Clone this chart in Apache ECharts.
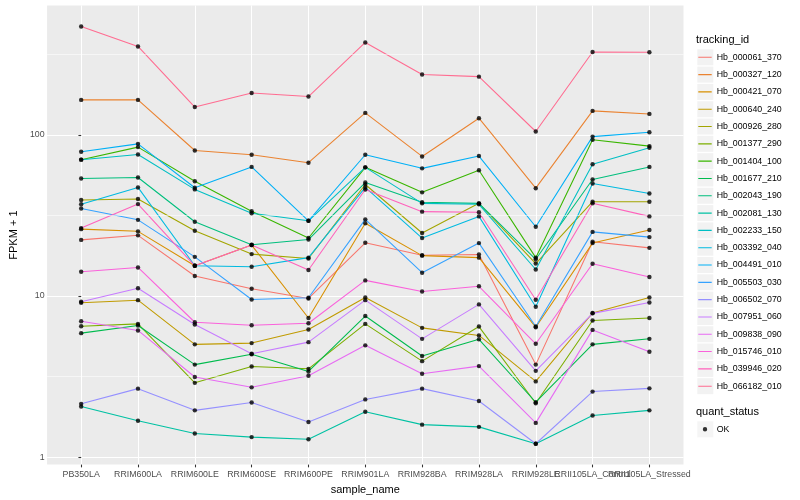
<!DOCTYPE html>
<html><head><meta charset="utf-8">
<script src="https://cdn.jsdelivr.net/npm/echarts@6/dist/echarts.min.js"></script>
<style>html,body{margin:0;padding:0;background:#fff}#c{width:800px;height:500px}</style>
</head><body><div id="c"></div>
<script>
const categories = ['PB350LA','RRIM600LA','RRIM600LE','RRIM600SE','RRIM600PE','RRIM901LA','RRIM928BA','RRIM928LA','RRIM928LE','RRII105LA_Control','RRII105LA_Stressed'];
const trackingIds = ['Hb_000061_370','Hb_000327_120','Hb_000421_070','Hb_000640_240','Hb_000926_280','Hb_001377_290','Hb_001404_100','Hb_001677_210','Hb_002043_190','Hb_002081_130','Hb_002233_150','Hb_003392_040','Hb_004491_010','Hb_005503_030','Hb_006502_070','Hb_007951_060','Hb_009838_090','Hb_015746_010','Hb_039946_020','Hb_066182_010'];
const colors = ['#F8766D','#EA8331','#D89000','#C09B00','#A3A500','#7CAE00','#39B600','#00BB4E','#00BF7D','#00C1A3','#00BFC4','#00BAE0','#00B0F6','#35A2FF','#9590FF','#C77CFF','#E76BF3','#FA62DB','#FF62BC','#FF6C91'];

const hb_000061_370 = [22.3, 23.8, 13.3, 11.1, 9.65, 21.4, 17.9, 18.1, 3.75, 21.7, 19.9];
const hb_000327_120 = [165, 165, 80.0, 75.3, 67.2, 137, 73.5, 127, 46.7, 141, 135];
const hb_000421_070 = [26.0, 25.2, 15.4, 20.7, 7.30, 28.3, 17.8, 17.3, 6.40, 21.3, 25.7];
const hb_000640_240 = [9.08, 9.42, 5.01, 5.10, 6.19, 9.79, 6.34, 5.69, 2.95, 7.84, 9.79];
const hb_000926_280 = [39.4, 40.0, 25.4, 18.2, 17.1, 49.2, 24.6, 37.6, 15.9, 38.5, 38.5];
const hb_001377_290 = [6.49, 6.71, 2.89, 3.65, 3.53, 6.71, 3.94, 6.46, 2.16, 7.04, 7.30];
const hb_001404_100 = [70.2, 84.0, 51.6, 33.6, 22.9, 62.9, 44.0, 60.3, 17.3, 93.2, 85.2];
const hb_001677_210 = [5.88, 6.56, 3.75, 4.35, 3.40, 7.51, 4.24, 5.38, 2.19, 5.01, 5.42];
const hb_002043_190 = [53.6, 54.4, 28.9, 20.8, 22.4, 50.6, 38.2, 37.6, 16.9, 52.9, 63.3];
const hb_002081_130 = [2.06, 1.68, 1.40, 1.33, 1.29, 1.91, 1.59, 1.54, 1.21, 1.81, 1.95];
const hb_002233_150 = [70.2, 75.6, 45.9, 32.6, 29.3, 62.9, 37.6, 37.1, 14.6, 65.7, 83.2];
const hb_003392_040 = [37.1, 47.2, 15.4, 15.2, 17.3, 47.2, 22.9, 31.2, 8.58, 49.9, 43.3];
const hb_004491_010 = [78.6, 88.0, 47.0, 63.3, 29.3, 75.3, 62.0, 73.9, 26.9, 97.6, 103.9];
const hb_005503_030 = [34.9, 29.7, 17.5, 9.51, 9.75, 29.9, 13.95, 21.3, 6.46, 25.0, 23.2];
const hb_006502_070 = [2.14, 2.66, 1.95, 2.18, 1.65, 2.28, 2.66, 2.23, 1.21, 2.55, 2.67];
const hb_007951_060 = [9.21, 11.17, 6.65, 4.38, 5.17, 9.42, 5.42, 8.87, 3.43, 7.80, 9.12];
const hb_009838_090 = [6.97, 6.11, 3.14, 2.71, 3.20, 4.94, 3.29, 3.67, 1.63, 6.16, 4.51];
const hb_015746_010 = [14.15, 15.04, 6.87, 6.58, 6.77, 12.5, 10.66, 11.49, 5.05, 15.85, 13.13];
const hb_039946_020 = [26.4, 37.2, 15.4, 20.75, 14.5, 45.8, 33.4, 33.1, 9.48, 37.6, 31.2];
const hb_066182_010 = [471, 354, 149, 182, 173, 375, 237, 230, 105, 327, 326];

const seriesValues = [hb_000061_370, hb_000327_120, hb_000421_070, hb_000640_240, hb_000926_280, hb_001377_290, hb_001404_100, hb_001677_210, hb_002043_190, hb_002081_130, hb_002233_150, hb_003392_040, hb_004491_010, hb_005503_030, hb_006502_070, hb_007951_060, hb_009838_090, hb_015746_010, hb_039946_020, hb_066182_010];

const yMajorTicks = [1, 10, 100];
const yMinorTicks = [3.1623, 31.623, 316.23];
const xTickValues = categories.map((c, i) => i);
// label groups (split so that overlapping neighbour labels are all kept, as in the original)
const xTickGroups = [xTickValues.slice(0, 9), xTickValues.slice(9, 10), xTickValues.slice(10)];

const FONT = 'Liberation Sans';
const lineIcon = 'path://M0,0h0.05v0.05h-0.05z M0,7.45h13.4v1.1h-13.4z M13.35,15.95h0.05v0.05h-0.05z';
const dotIcon = 'path://M0,0h0.05v0.05h-0.05z M4.5,8a2.2,2.2 0 1,0 4.4,0a2.2,2.2 0 1,0 -4.4,0z M13.35,15.95h0.05v0.05h-0.05z';

const chart = echarts.init(document.getElementById('c'), null, {renderer: 'canvas'});

const series = [{
  type: 'line', name: '_minor', data: [], silent: true, z: 1, xAxisIndex: 0,
  markLine: {
    silent: true, symbol: 'none', animation: false,
    label: {show: false},
    lineStyle: {color: '#FFFFFF', width: 0.55, type: 'solid'},
    emphasis: {disabled: true},
    data: yMinorTicks.map(v => ({yAxis: v}))
  }
}];
trackingIds.forEach((id, k) => {
  series.push({
    type: 'line', name: id, z: 3, silent: true, xAxisIndex: 0,
    data: seriesValues[k].map((v, i) => [i, v]),
    symbol: 'none', showSymbol: false,
    lineStyle: {color: colors[k], width: 1.07},
    itemStyle: {color: colors[k]}
  });
});
const allPoints = [];
seriesValues.forEach(arr => arr.forEach((v, i) => allPoints.push([i, v])));
series.push({
  type: 'scatter', name: 'OK', z: 5, silent: true, xAxisIndex: 0,
  data: allPoints, symbol: 'circle', symbolSize: 4.4,
  itemStyle: {color: '#000000'}
});

const xAxes = xTickGroups.map((ticks, gi) => {
  const ax = {
    type: 'value', min: -0.6, max: 10.6, position: 'bottom', offset: 0,
    axisLine: {show: false},
    axisTick: {show: true, customValues: ticks, length: 2.75, lineStyle: {color: '#333333', width: 1.07}},
    axisLabel: {customValues: ticks, fontFamily: FONT, fontSize: 8.8, color: '#4D4D4D', margin: 5.5,
      hideOverlap: false, formatter: v => categories[Math.round(v)] || ''},
    splitLine: {show: true, lineStyle: {color: '#FFFFFF', width: 1.07}}
  };
  if (gi === 0) {
    ax.name = 'sample_name';
    ax.nameLocation = 'middle';
    ax.nameGap = 16;
    ax.nameTextStyle = {fontFamily: FONT, fontSize: 11, color: '#000'};
  }
  return ax;
});

const option = {
  animation: false,
  textStyle: {fontFamily: FONT},
  grid: {left: 39.8, top: 5.6, width: 643.7, height: 463, show: true, backgroundColor: '#EBEBEB', borderWidth: 0, borderColor: 'transparent', containLabel: false},
  title: [
    {text: 'tracking_id', left: 696, top: 34, padding: 0, textStyle: {fontFamily: FONT, fontSize: 11, fontWeight: 'normal', color: '#000'}},
    {text: 'quant_status', left: 696, top: 406, padding: 0, textStyle: {fontFamily: FONT, fontSize: 11, fontWeight: 'normal', color: '#000'}}
  ],
  xAxis: xAxes,
  yAxis: {
    type: 'log', logBase: 10, min: 0.898, max: 635,
    name: 'FPKM + 1', nameLocation: 'middle', nameGap: 22,
    nameTextStyle: {fontFamily: FONT, fontSize: 11, color: '#000'},
    axisLine: {show: false},
    axisTick: {show: true, customValues: yMajorTicks, length: 2.75, lineStyle: {color: '#333333', width: 1.07}},
    axisLabel: {fontFamily: FONT, fontSize: 8.8, color: '#4D4D4D', margin: 2.5,
      showMinLabel: false, showMaxLabel: false,
      formatter: v => (yMajorTicks.indexOf(Math.round(v * 1000) / 1000) >= 0 ? String(Math.round(v)) : '')},
    splitLine: {show: true, lineStyle: {color: '#FFFFFF', width: 1.07}}
  },
  legend: [
    {orient: 'vertical', left: 697.3, top: 49.3, itemWidth: 16, itemHeight: 16, itemGap: 1.31, padding: 0,
      selectedMode: false, icon: 'rect', itemStyle: {color: '#F2F2F2', borderWidth: 0},
      textStyle: {fontFamily: FONT, fontSize: 8.8, color: 'rgba(0,0,0,0)'}, data: trackingIds},
    {orient: 'vertical', left: 698.3, top: 49.3, itemWidth: 13.4, itemHeight: 16, itemGap: 1.31, padding: 0,
      selectedMode: false, itemStyle: {borderWidth: 0},
      textStyle: {fontFamily: FONT, fontSize: 8.8, color: '#000'},
      data: trackingIds.map((id, k) => ({name: id, icon: lineIcon, itemStyle: {color: colors[k], borderWidth: 0}}))},
    {orient: 'vertical', left: 697.3, top: 421.3, itemWidth: 16, itemHeight: 16, padding: 0,
      selectedMode: false, icon: 'rect', itemStyle: {color: '#F2F2F2', borderWidth: 0},
      textStyle: {fontFamily: FONT, fontSize: 8.8, color: 'rgba(0,0,0,0)'}, data: ['OK']},
    {orient: 'vertical', left: 698.3, top: 421.3, itemWidth: 13.4, itemHeight: 16, padding: 0,
      selectedMode: false, itemStyle: {borderWidth: 0},
      textStyle: {fontFamily: FONT, fontSize: 8.8, color: '#000'},
      data: [{name: 'OK', icon: dotIcon, itemStyle: {color: '#000', borderWidth: 0}}]}
  ],
  series: series
};
chart.setOption(option);
</script>
</body></html>
